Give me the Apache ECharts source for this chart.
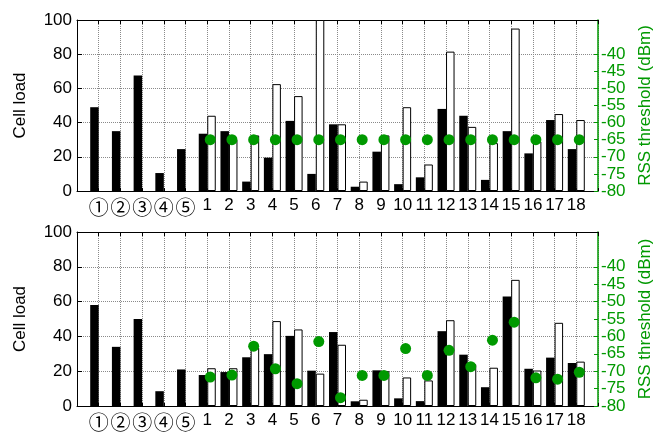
<!DOCTYPE html>
<html><head><meta charset="utf-8">
<script src="https://cdn.jsdelivr.net/npm/echarts@6/dist/echarts.min.js"></script>
<style>html,body{margin:0;padding:0;background:#fff}#c{width:668px;height:432px}</style>
</head><body><div id="c"></div>
<script>
var categories = ['①','②','③','④','⑤','1','2','3','4','5','6','7','8','9','10','11','12','13','14','15','16','17','18'];
var loadTicks = [0,20,40,60,80,100];
var rssTicks = [-80,-75,-70,-65,-60,-55,-50,-45,-40];

var topBlack = [49,35,67.5,10.5,24.5,33.5,35,5.5,19.5,41,10,39,2.5,23,4,8,48,44,6.5,35,22,41.5,24.5];
var topWhite = [null,null,null,null,null,44,30,32.5,62.5,55.5,100,39,5.5,32.5,49,15.5,81.5,37.5,28,95,29,45,41.5];
var topRss   = [null,null,null,null,null,-65,-65,-65,-65,-65,-65,-65,-65,-65,-65,-65,-65,-65,-65,-65,-65,-65,-65];

var botBlack = [58,34,50,8.5,21,17.8,19.5,28,29.8,40.3,20.3,42.5,2.7,20.5,4.4,2.8,43,29.5,10.8,63,21.4,27.8,24.7];
var botWhite = [null,null,null,null,null,21.7,21.7,33.5,48.8,44,18.6,35.2,3.6,20,16.4,14.7,49.3,24,22,72.5,20.4,47.8,25.5];
var botRss   = [null,null,null,null,null,-71.7,-71.1,-62.8,-69.3,-73.6,-61.5,-77.6,-71.2,-71.2,-63.5,-71.2,-64,-68.7,-61.1,-55.9,-71.9,-72.3,-70.3];

var FONT = "'Liberation Sans', 'Noto Sans CJK JP', sans-serif";
var GREEN = '#009900';
var axisData = [''].concat(categories, ['']);
function pad(a){ return [null].concat(a,[null]); }

function xAxes(gi){
  return [{
    type:'category', gridIndex:gi, data:axisData, boundaryGap:false, position:'bottom',
    axisLine:{lineStyle:{color:'#000',width:1}},
    axisTick:{inside:true,length:3,lineStyle:{color:'#000'}},
    axisLabel:{fontFamily:FONT,fontSize:17,color:'#000',margin:6,interval:0,
      formatter:function(v){ return /^\d+$/.test(v) || v==='' ? v : '{c|'+v+'}'; },
      rich:{c:{fontFamily:"'Noto Sans CJK JP', 'DejaVu Sans', sans-serif",fontSize:20,color:'#000',lineHeight:20}}},
    splitLine:{show:true,lineStyle:{color:'#8a8a8a',type:[1,1],width:1}}
  },{
    type:'category', gridIndex:gi, data:axisData, boundaryGap:false, position:'top',
    axisLine:{lineStyle:{color:'#000',width:1}},
    axisTick:{inside:true,length:4,lineStyle:{color:'#000'}},
    axisLabel:{show:false}, splitLine:{show:false}
  }];
}
function yAxes(gi){
  return [{
    type:'value', gridIndex:gi, min:0, max:100, interval:20, position:'left',
    name:'Cell load', nameLocation:'middle', nameRotate:90, nameGap:48,
    nameTextStyle:{fontFamily:FONT,fontSize:17,color:'#000'},
    axisLine:{show:true,lineStyle:{color:'#000',width:1}},
    axisTick:{show:true,inside:true,length:5,lineStyle:{color:'#000'}},
    axisLabel:{fontFamily:FONT,fontSize:17,color:'#000',margin:5,customValues:loadTicks},
    splitLine:{show:true,lineStyle:{color:'#8a8a8a',type:[1,1],width:1}}
  },{
    type:'value', gridIndex:gi, min:-80, max:-30, interval:5, position:'right',
    name:'RSS threshold (dBm)', nameLocation:'middle', nameRotate:90, nameGap:36,
    nameTextStyle:{fontFamily:FONT,fontSize:17,color:GREEN},
    axisLine:{show:true,lineStyle:{color:GREEN,width:1.5}},
    axisTick:{show:true,inside:true,length:4,lineStyle:{color:GREEN},customValues:rssTicks},
    axisLabel:{fontFamily:FONT,fontSize:17,color:GREEN,margin:3,customValues:rssTicks,
      formatter:function(v){return v>-40?'':String(v);}},
    splitLine:{show:false}
  }];
}
function seriesFor(gi,black,white,rss){
  return [{
    type:'bar', xAxisIndex:gi*2, yAxisIndex:gi*2, data:pad(black), barWidth:8.5, barGap:'0%',
    itemStyle:{color:'#000'}, z:2
  },{
    type:'bar', xAxisIndex:gi*2, yAxisIndex:gi*2, data:pad(white), barWidth:8.5, barGap:'0%',
    itemStyle:{color:'#fff',borderColor:'#000',borderWidth:1}, z:2
  },{
    type:'scatter', xAxisIndex:gi*2, yAxisIndex:gi*2+1, data:pad(rss), symbolSize:11,
    symbolOffset:[3,0], itemStyle:{color:GREEN,opacity:1}, z:5
  }];
}

var chart = echarts.init(document.getElementById('c'), null, {renderer:'canvas'});
chart.setOption({
  animation:false,
  backgroundColor:'#fff',
  grid:[
    {left:77,right:70,top:20,height:171},
    {left:77,right:70,top:232,height:176}
  ],
  xAxis: xAxes(0).concat(xAxes(1)),
  yAxis: yAxes(0).concat(yAxes(1)),
  series: seriesFor(0,topBlack,topWhite,topRss).concat(seriesFor(1,botBlack,botWhite,botRss))
});
</script></body></html>
